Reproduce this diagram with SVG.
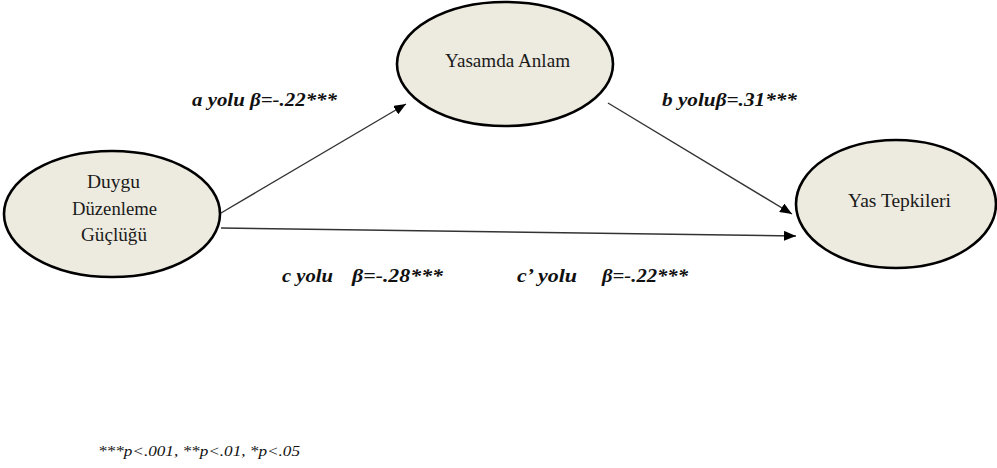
<svg xmlns="http://www.w3.org/2000/svg" width="997" height="468" viewBox="0 0 997 468">
<style>
.node ellipse{fill:#EDEADF;stroke:#000;stroke-width:2.6}
.nt{font-family:"Liberation Serif","Times New Roman",serif;font-size:18.5px;fill:#1a1a1a}
.lbl{font-family:"Liberation Serif","Times New Roman",serif;font-size:18.5px;font-weight:bold;font-style:italic;fill:#111}
.foot{font-family:"Liberation Serif","Times New Roman",serif;font-size:15.5px;font-style:italic;fill:#111}
.conn line{stroke:#333;stroke-width:1.4}
</style>
<defs>
<marker id="ah" viewBox="0 0 12 10" refX="12" refY="5" markerWidth="12" markerHeight="10" markerUnits="userSpaceOnUse" orient="auto">
<path d="M0,0 L12,5 L0,10 Z" fill="#000"/>
</marker>
</defs>
<rect width="997" height="468" fill="#fff"/>
<g id="connectors" class="conn">
<line x1="221" y1="213" x2="406" y2="104" marker-end="url(#ah)"/>
<line x1="608" y1="103" x2="792" y2="214" marker-end="url(#ah)"/>
<line x1="221" y1="228" x2="796" y2="236" marker-end="url(#ah)"/>
</g>
<g id="node-duygu" class="node">
<ellipse cx="112" cy="214" rx="108" ry="63"/>
<text class="nt" x="87" y="188" textLength="53" lengthAdjust="spacingAndGlyphs">Duygu</text>
<text class="nt" x="72" y="215" textLength="85" lengthAdjust="spacingAndGlyphs">Düzenleme</text>
<text class="nt" x="81" y="241" textLength="66" lengthAdjust="spacingAndGlyphs">Güçlüğü</text>
</g>
<g id="node-yasamda" class="node">
<ellipse cx="505" cy="64" rx="108" ry="62"/>
<text class="nt" x="445" y="67" textLength="125" lengthAdjust="spacingAndGlyphs">Yasamda Anlam</text>
</g>
<g id="node-yas" class="node">
<ellipse cx="896" cy="204" rx="100" ry="64"/>
<text class="nt" x="848" y="207" textLength="103" lengthAdjust="spacingAndGlyphs">Yas Tepkileri</text>
</g>
<g id="labels">
<text class="lbl" x="192" y="106" textLength="145" lengthAdjust="spacingAndGlyphs">a yolu β=-.22***</text>
<text class="lbl" x="662" y="106" textLength="135" lengthAdjust="spacingAndGlyphs">b yoluβ=.31***</text>
<text class="lbl" x="282" y="282" textLength="51" lengthAdjust="spacingAndGlyphs">c yolu</text>
<text class="lbl" x="352" y="282" textLength="91" lengthAdjust="spacingAndGlyphs">β=-.28***</text>
<text class="lbl" x="517" y="282" textLength="60" lengthAdjust="spacingAndGlyphs">c’ yolu</text>
<text class="lbl" x="602" y="282" textLength="86" lengthAdjust="spacingAndGlyphs">β=-.22***</text>
<text class="foot" x="98" y="456" textLength="202" lengthAdjust="spacingAndGlyphs">***p&lt;.001, **p&lt;.01, *p&lt;.05</text>
</g>
</svg>
